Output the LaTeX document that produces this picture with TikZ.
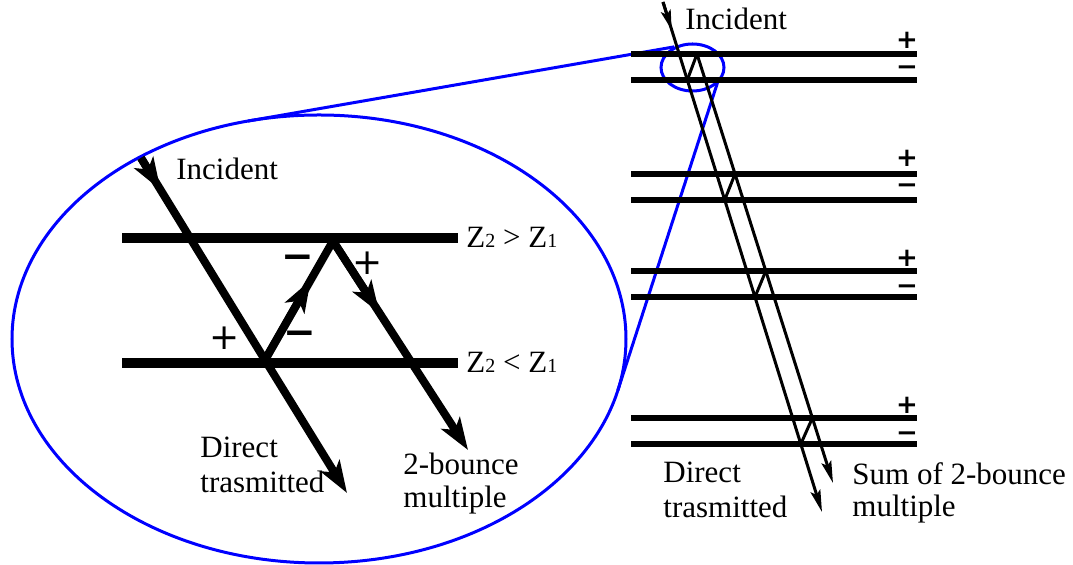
\documentclass[tikz,border=0pt]{standalone}
\usepackage{fontspec}
\setmainfont{Liberation Serif}
\newfontfamily\sgnfont{DejaVu Sans}
\usetikzlibrary{arrows.meta,calc}
\begin{document}
\begin{tikzpicture}[x=0.5pt,y=-0.5pt,
  lbl/.style={font=\fontsize{15.5}{18}\selectfont, anchor=base west, inner sep=0pt},
  sgnL/.style={font=\sgnfont\fontsize{18}{20}\selectfont, inner sep=0pt},
  sgnLb/.style={font=\sgnfont\bfseries\fontsize{19.5}{21}\selectfont, inner sep=0pt},
  sgnR/.style={font=\sgnfont\bfseries\fontsize{13}{15}\selectfont, inner sep=0pt},
  bigray/.style={line width=4pt},
  bigtip/.style={-{Stealth[length=16pt,width=11pt,inset=4pt]}},
  layerL/.style={line width=5pt},
  layerR/.style={line width=3pt},
  ray/.style={line width=1.5pt},
  smalltip/.style={-{Stealth[length=11pt,width=5pt,inset=2pt]}},
  zoomline/.style={blue, line width=1.5pt}]
\useasboundingbox (0,0) rectangle (1073,565);

% ---------- zoom ellipses and connecting lines ----------
\draw[zoomline] (319,339) ellipse [x radius=307, y radius=224];
\draw[zoomline] (692.5,67.5) ellipse [x radius=31.5, y radius=23.5];
\coordinate (tA) at (247.8,121.1);
\coordinate (tB) at (674,46.9);
\coordinate (tC) at (617.8,390.5);
\coordinate (tD) at (718.7,79);
\draw[zoomline] (tA) -- (tB);
\draw[zoomline] (tD) -- (tC);

% ---------- left (zoomed) picture ----------
\coordinate (L1a) at (122,238); \coordinate (L1b) at (458,238);
\coordinate (L2a) at (122,363); \coordinate (L2b) at (458,363);
\draw[layerL] (L1a) -- (L1b);
\draw[layerL] (L2a) -- (L2b);

\coordinate (I0) at (141,158);
\coordinate (R) at (265,360);
\coordinate (T1) at (347,493);
\coordinate (A) at (333,241);
\coordinate (M1) at (468,450);

\draw[bigray] (I0) -- (R);
\draw[bigray, bigtip] (I0) -- ($(I0)!0.158!(R)$);
\draw[bigray, bigtip] (R) -- (T1);
\draw[bigray] (R) -- (A);
\draw[bigray, bigtip] (R) -- ($(R)!0.672!(A)$);
\draw[bigray, bigtip] (A) -- (M1);
\draw[bigray, bigtip] (A) -- ($(A)!0.344!(M1)$);

\node[sgnLb] (mA) at (298,262) {−};
\node[sgnL] (pA) at (368,263) {+};
\node[sgnL] (pB) at (225,338) {+};
\node[sgnLb] (mB) at (300,338) {−};

\node[lbl] (incL) at (176,180) {Incident};
\node[lbl] (zA) at (466,248) {Z{\fontsize{10}{12}\selectfont 2} > Z{\fontsize{10}{12}\selectfont 1}};
\node[lbl] (zB) at (466,373) {Z{\fontsize{10}{12}\selectfont 2} < Z{\fontsize{10}{12}\selectfont 1}};
\node[lbl] (dirL) at (200,458) {Direct};
\node[lbl] (traL) at (200,493) {trasmitted};
\node[lbl] (bncL) at (403,475) {2-bounce};
\node[lbl] (mulL) at (403,508) {multiple};

% ---------- right picture ----------
\foreach \ya/\yb in {54/80, 174/200, 271/297, 418/444}{
  \draw[layerR] (631,\ya) -- (917,\ya);
  \draw[layerR] (631,\yb) -- (917,\yb);
}
\coordinate (D0) at (663,2);
\coordinate (D1) at (822,512);
\coordinate (S0) at (697,54);
\coordinate (S1) at (833,483);
\draw[ray, smalltip] (D0) -- (D1);
\draw[ray, -{Stealth[length=10pt,width=5pt,inset=2pt]}] (D0) -- (671.7,30);
\draw[ray, smalltip] (S0) -- (S1);
\coordinate (v1) at (687.3,80);
\coordinate (v2) at (724.7,200);
\coordinate (v3) at (755.0,297);
\coordinate (v4) at (800.8,444);
\coordinate (w2) at (735.0,174);
\coordinate (w3) at (765.8,271);
\coordinate (w4) at (812.4,418);
\draw[ray] (v1) -- (S0);
\draw[ray] (v2) -- (w2);
\draw[ray] (v3) -- (w3);
\draw[ray] (v4) -- (w4);

\node[sgnR] (p1) at (907,40) {+};
\node[sgnR] (m1) at (907,71) {−};
\node[sgnR] (p2) at (907,158) {+};
\node[sgnR] (m2) at (907,189) {−};
\node[sgnR] (p3) at (907,258) {+};
\node[sgnR] (m3) at (907,290) {−};
\node[sgnR] (p4) at (907,405) {+};
\node[sgnR] (m4) at (907,437) {−};

\node[lbl] (incR) at (685,30) {Incident};
\node[lbl] (dirR) at (663,483) {Direct};
\node[lbl] (traR) at (663,518) {trasmitted};
\node[lbl] (sumR) at (852,485) {Sum of 2-bounce};
\node[lbl] (mulR) at (852,517) {multiple};
\end{tikzpicture}
\end{document}
